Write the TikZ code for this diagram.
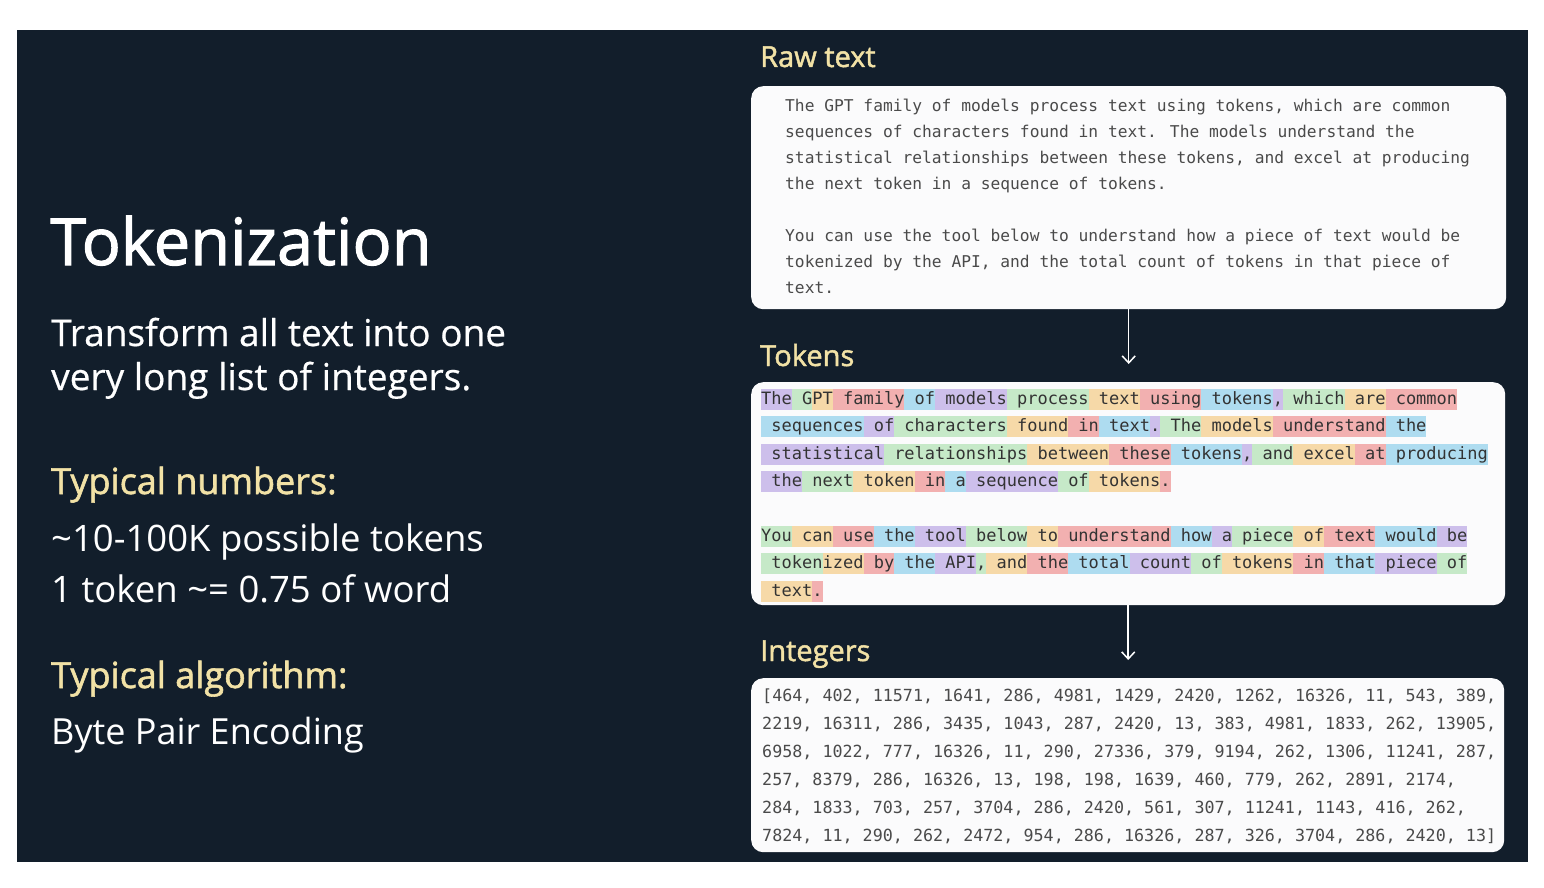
\documentclass[tikz,border=0pt]{standalone}
\usepackage{fontspec}
\setmainfont{Open Sans}
\newfontfamily\headfont[FakeBold=1.6]{Open Sans}
\newfontfamily\bodyfont[FakeBold=0.5]{Open Sans}
\newfontfamily\codefont{DejaVu Sans Mono}
\usetikzlibrary{positioning, arrows.meta}

\definecolor{slidebg}{HTML}{121E2B}
\definecolor{headyellow}{HTML}{F2E2A6}
\definecolor{boxfill}{HTML}{FBFBFC}
\definecolor{codegray}{HTML}{4A4A4A}
\definecolor{tokpurple}{HTML}{CDBFEB}
\definecolor{tokgreen}{HTML}{C6E9C8}
\definecolor{tokorange}{HTML}{F6D9A8}
\definecolor{tokred}{HTML}{F2B0B0}
\definecolor{tokblue}{HTML}{AEDCF0}

% token highlighting, colours cycle purple-green-orange-red-blue
\setlength\fboxsep{0pt}
\newcount\tokpos
\newcommand\tokband{\rule[-5.5pt]{0pt}{21pt}}
\newcommand\tkstep{\global\advance\tokpos by 1\relax\ifnum\tokpos>4 \global\tokpos=0 \fi}
\newcommand\tk[1]{%
  \ifcase\tokpos\def\tokcol{tokpurple}\or\def\tokcol{tokgreen}\or\def\tokcol{tokorange}\or\def\tokcol{tokred}\or\def\tokcol{tokblue}\fi
  \tkstep\colorbox{\tokcol}{\tokband#1}}

\tikzstyle{panel} = [rectangle, rounded corners=12pt, fill=boxfill, draw=none, anchor=north west, inner sep=0pt]
\tikzstyle{slidetext} = [text=white, inner sep=0pt, anchor=base west]
\tikzstyle{heading} = [text=headyellow, inner sep=0pt, anchor=base west]
\tikzstyle{label} = [heading, font=\headfont\fontsize{29}{29}\selectfont]
\tikzstyle{codetext} = [inner sep=0pt, align=left, text=codegray]
\tikzstyle{flow} = [white, line width=1.5pt, -{Straight Barb[length=7pt, width=13pt, line width=1.5pt]}]

\begin{document}
\begin{tikzpicture}[x=1pt, y=-1pt]
		\useasboundingbox (0,0) rectangle (1544,888);
		\fill[white] (0,0) rectangle (1544,888);
		\fill[slidebg] (17,30) rectangle (1528,862);

		% left column
		\node (title) [slidetext, font=\headfont\fontsize{65}{65}\selectfont] at (50,265) {Tokenization};
		\node (sum1) [slidetext, font=\bodyfont\fontsize{37}{37}\selectfont] at (51,346) {Transform all text into one};
		\node (sum2) [slidetext, font=\bodyfont\fontsize{37}{37}\selectfont] at (51,390) {very long list of integers.};
		\node (numhead) [heading, font=\headfont\fontsize{36}{36}\selectfont] at (51,494) {Typical numbers:};
		\node (num1) [slidetext, font=\fontsize{36.5}{36.5}\selectfont] at (51,551) {\textasciitilde10-100K possible tokens};
		\node (num2) [slidetext, font=\fontsize{36.5}{36.5}\selectfont] at (51,602) {1 token \textasciitilde= 0.75 of word};
		\node (alghead) [heading, font=\headfont\fontsize{36}{36}\selectfont] at (51,688) {Typical algorithm:};
		\node (alg1) [slidetext, font=\fontsize{36}{36}\selectfont] at (51,744) {Byte Pair Encoding};

		% right column: boxes
		\node (raw) [panel, minimum width=755pt, minimum height=223pt] at (751,86) {};
		\node (tok) [panel, minimum width=754pt, minimum height=223pt] at (751,382) {};
		\node (ints) [panel, minimum width=753pt, minimum height=174pt] at (751,678) {};

		\node (rawlbl) [label] at (760,67) {Raw text};
		\node (toklbl) [label] at (760,366) {Tokens};
		\node (intlbl) [label] at (760,661) {Integers};

		\node (rawtxt) [codetext, below right=9.5pt and 34pt of raw.north west, font=\codefont\fontsize{16.25}{26}\selectfont] {%
			\rule{0pt}{16pt}The GPT family of models process text using tokens, which are common\\
			sequences of characters found in text. The models understand the\\
			statistical relationships between these tokens, and excel at producing\\
			the next token in a sequence of tokens.\\[26pt]
			You can use the tool below to understand how a piece of text would be\\
			tokenized by the API, and the total count of tokens in that piece of\\
			text.};

		\node (toktxt) [codetext, text=black!80, below right=6.5pt and 10pt of tok.north west, font=\codefont\fontsize{17}{27.4}\selectfont] {%
			\global\tokpos=0 %
			\tk{The}\tk{~G}\tk{PT}\tk{~family}\tk{~of}\tk{~models}\tk{~process}\tk{~text}\tk{~using}\tk{~tokens}\tk{,}\tk{~which}\tk{~are}\tk{~common}\\
			\tk{~sequences}\tk{~of}\tk{~characters}\tk{~found}\tk{~in}\tk{~text}\tk{.}\tk{~The}\tk{~models}\tk{~understand}\tk{~the}\\
			\tk{~statistical}\tk{~relationships}\tk{~between}\tk{~these}\tk{~tokens}\tk{,}\tk{~and}\tk{~excel}\tk{~at}\tk{~producing}\\
			\tk{~the}\tk{~next}\tk{~token}\tk{~in}\tk{~a}\tk{~sequence}\tk{~of}\tk{~tokens}\tk{.}\tkstep\tkstep\\[27.4pt]
			\tk{You}\tk{~can}\tk{~use}\tk{~the}\tk{~tool}\tk{~below}\tk{~to}\tk{~understand}\tk{~how}\tk{~a}\tk{~piece}\tk{~of}\tk{~text}\tk{~would}\tk{~be}\\
			\tk{~token}\tk{ized}\tk{~by}\tk{~the}\tk{~API}\tk{,}\tk{~and}\tk{~the}\tk{~total}\tk{~count}\tk{~of}\tk{~tokens}\tk{~in}\tk{~that}\tk{~piece}\tk{~of}\\
			\tk{~text}\tk{.}};

		\node (inttxt) [codetext, below right=9pt and 11pt of ints.north west, font=\codefont\fontsize{16.7}{28}\selectfont] {%
			\rule{0pt}{14pt}[464, 402, 11571, 1641, 286, 4981, 1429, 2420, 1262, 16326, 11, 543, 389,\\
			2219, 16311, 286, 3435, 1043, 287, 2420, 13, 383, 4981, 1833, 262, 13905,\\
			6958, 1022, 777, 16326, 11, 290, 27336, 379, 9194, 262, 1306, 11241, 287,\\
			257, 8379, 286, 16326, 13, 198, 198, 1639, 460, 779, 262, 2891, 2174,\\
			284, 1833, 703, 257, 3704, 286, 2420, 561, 307, 11241, 1143, 416, 262,\\
			7824, 11, 290, 262, 2472, 954, 286, 16326, 287, 326, 3704, 286, 2420, 13]};

		\coordinate (tokin) at ([yshift=18pt]tok.north);
		\coordinate (intin) at ([yshift=18pt]ints.north);
		\draw [flow] (raw.south) -- (raw.south |- tokin);
		\draw [flow] (tok.south) -- (tok.south |- intin);

\end{tikzpicture}
\end{document}
